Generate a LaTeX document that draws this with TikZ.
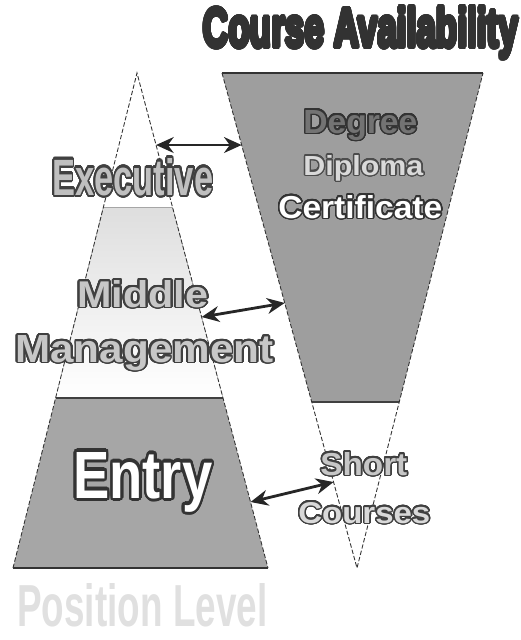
\documentclass[tikz,border=0pt]{standalone}
\usepackage{fontspec}
\setmainfont{Liberation Sans}
\usepackage{graphicx,xcolor}
\usepackage[copies]{contour}
\contourlength{0.9pt}
\contournumber{32}
\definecolor{pgdark}{RGB}{50,50,50}
\definecolor{pglight}{RGB}{222,222,222}
\definecolor{pgband}{RGB}{158,158,158}
\usetikzlibrary{arrows.meta,calc}
\newcommand{\wordart}[5]{\resizebox{#1}{#2}{\contour{#3}{\textcolor{#4}{#5}}}}

\begin{document}
\begin{tikzpicture}[x=0.02cm, y=-0.02cm,
  sideline/.style={draw=black!80, line width=0.5pt, dash pattern=on 2.5pt off 1.2pt},
  linkarrow/.style={{Stealth[length=10pt,width=9pt]}-{Stealth[length=10pt,width=9pt]}, line width=1.6pt, draw=black!85},
  word/.style={inner sep=0pt, anchor=base west, font=\bfseries\fontsize{20}{24}\selectfont}]
  \useasboundingbox (0,0) rectangle (521,640);

  % Position pyramid
  \coordinate (pyrtop) at (137,73);
  \coordinate (pyrbl) at (13,568);
  \coordinate (pyrbr) at (268,568);
  \coordinate (midtl) at ($(pyrtop)!0.2707!(pyrbl)$);
  \coordinate (midtr) at ($(pyrtop)!0.2707!(pyrbr)$);
  \coordinate (entrytl) at ($(pyrtop)!0.6566!(pyrbl)$);
  \coordinate (entrytr) at ($(pyrtop)!0.6566!(pyrbr)$);
  \fill[top color=pglight, bottom color=white] (midtl) -- (midtr) -- (entrytr) -- (entrytl) -- cycle;
  \fill[pgband!92!white] (entrytl) -- (entrytr) -- (pyrbr) -- (pyrbl) -- cycle;
  \draw[black!35, line width=0.4pt] (midtl) -- (midtr);
  \draw[black!75, line width=0.6pt] (entrytl) -- (entrytr);
  \draw[black!80, line width=0.8pt] (pyrbl) -- (pyrbr);
  \draw[sideline] (pyrbl) -- (pyrtop) -- (pyrbr);

  % Course funnel
  \coordinate (funtl) at (222,73);
  \coordinate (funtr) at (483,73);
  \coordinate (funbot) at (357,568);
  \coordinate (shorttl) at ($(funtl)!0.6646!(funbot)$);
  \coordinate (shorttr) at ($(funtr)!0.6646!(funbot)$);
  \fill[pgband] (funtl) -- (funtr) -- (shorttr) -- (shorttl) -- cycle;
  \draw[black!80, line width=0.8pt] (funtl) -- (funtr);
  \draw[black!75, line width=0.6pt] (shorttl) -- (shorttr);
  \draw[sideline] (funtl) -- (funbot) -- (funtr);

  % Labels
  \node[word] (title) at (203,47) {\resizebox{6.3cm}{0.8cm}{\contourlength{0.8pt}\contour{pgdark}{\textcolor{pgdark}{Course Availability}}}};
  \node[word] (executive) at (52,195) {\wordart{3.22cm}{0.74cm}{black!75}{black!25}{Executive}};
  \node[word] (middle) at (77,307) {\wordart{2.62cm}{0.54cm}{black!75}{black!22}{Middle}};
  \node[word] (management) at (15,362) {\wordart{5.16cm}{0.54cm}{black!75}{black!22}{Management}};
  \node[word] (entry) at (73,498) {\wordart{2.78cm}{0.92cm}{black!80}{white}{Entry}};
  \node[word] (degree) at (303,133) {\wordart{2.28cm}{0.46cm}{black!80}{black!55}{Degree}};
  \node[word] (diploma) at (303,175) {\wordart{2.40cm}{0.40cm}{black!70}{black!15}{Diploma}};
  \node[word] (certificate) at (278,218) {\wordart{3.28cm}{0.46cm}{black!80}{white}{Certificate}};
  \node[word] (short) at (320,475) {\wordart{1.74cm}{0.46cm}{black!75}{black!22}{Short}};
  \node[word] (courses) at (298,523) {\wordart{2.64cm}{0.42cm}{black!75}{black!15}{Courses}};
  \node[word] (position) at (17,626) {\resizebox{5.0cm}{0.86cm}{\textcolor{black!12}{Position Level}}};

  % Links
  \coordinate (execA) at ($(pyrtop)!0.1455!(pyrbr)$);
  \coordinate (execB) at ($(funtl)!0.1455!(funbot)$);
  \coordinate (midA) at ($(pyrtop)!0.4930!(pyrbr)$);
  \coordinate (midB) at ($(funtl)!0.4646!(funbot)$);
  \coordinate (entryA) at ($(pyrtop)!0.8667!(pyrbr)$);
  \coordinate (entryB) at ($(funtl)!0.8263!(funbot)$);
  \draw[linkarrow] (execA) -- (execB);
  \draw[linkarrow] (midA) -- (midB);
  \draw[linkarrow] (entryA) -- (entryB);
\end{tikzpicture}
\end{document}
